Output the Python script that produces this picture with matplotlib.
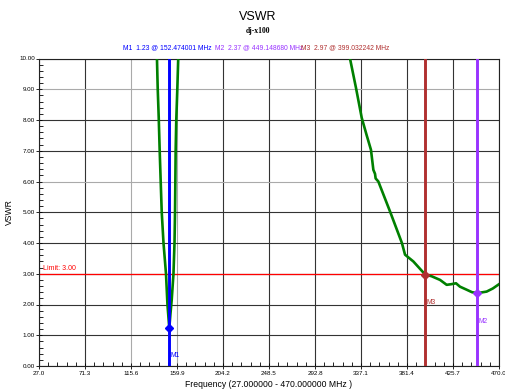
#!/usr/bin/env python
# -*- coding: utf-8 -*-

"""

  VSWR sweep plot for the dj-x100 antenna.

"""

#...for the plotting.
import matplotlib
matplotlib.use("Agg")
import matplotlib.pyplot as plt

#...for the MATH.
import numpy as np

from matplotlib.ticker import AutoMinorLocator

plt.rcParams['font.family'] = ['Liberation Sans', 'DejaVu Sans']

## The sweep frequencies [MHz] (values above 10 are off the scale).
freq = [139.8, 140.6, 141.3, 142.3, 143.2, 144.2, 145.2, 146.9, 149.3, 150.7,
        152.47, 153.6, 154.8, 156.5, 157.5, 158.0, 158.3, 158.6, 159.2, 160.2,
        161.1, 161.6, 325.8, 326.5, 332.3, 337.8, 342.6, 346.7, 349.0, 350.6,
        351.2, 353.8, 365.0, 376.5, 379.5, 387.5, 399.03, 405.0, 413.2, 419.6,
        424.0, 428.6, 432.4, 438.9, 444.0, 449.15, 458.1, 464.0, 470.0]

## The measured VSWR.
vswr = [10.6, 10.0, 9.05, 8.08, 7.03, 6.0, 5.0, 4.0, 3.0, 2.0,
        1.23, 1.7, 2.15, 3.0, 4.0, 5.0, 6.0, 7.0, 8.0, 9.0,
        10.0, 10.6, 10.6, 10.0, 9.04, 8.07, 7.5, 7.03, 6.38, 6.25,
        6.1, 6.0, 5.03, 4.0, 3.62, 3.40, 2.97, 2.92, 2.80, 2.64,
        2.66, 2.69, 2.58, 2.48, 2.40, 2.37, 2.42, 2.52, 2.66]

## The markers: names, frequencies, values and colours.
mk_names = ["M1", "M2", "M3"]
mk_freqs = [152.474001, 449.148680, 399.032242]
mk_vals = [1.23, 2.37, 2.97]
mk_cols = ["#0000ff", "#9933ff", "#b03030"]
mk_label_y = [0.35, 1.45, 2.05]

## The limit line.
limit = 3.0

## The axis ticks.
x_ticks = [27.0, 71.3, 115.6, 159.9, 204.2, 248.5, 292.8, 337.1, 381.4, 425.7, 470.0]
y_ticks = [0.0, 1.0, 2.0, 3.0, 4.0, 5.0, 6.0, 7.0, 8.0, 9.0, 10.0]

## Grid line colours (the original renders them in two shades).
x_grid_cols = ["#333333", "#333333", "#aaaaaa", "#aaaaaa", "#333333", "#333333",
               "#333333", "#333333", "#333333", "#333333", "#333333"]
y_grid_cols = ["#333333", "#333333", "#333333", "#333333", "#333333", "#333333",
               "#aaaaaa", "#333333", "#333333", "#aaaaaa", "#333333"]

## The figure.
plot = plt.figure(figsize=(5.06, 3.92), dpi=100, facecolor='w', edgecolor='w')

## The plot axes.
plotax = plot.add_axes([39/506., 1-366/392., 460/506., (366-58.5)/392.])

# Grid lines.
for xt, c in zip(x_ticks, x_grid_cols):
    plotax.axvline(xt, color=c, linewidth=0.8, zorder=1)
for yt, c in zip(y_ticks, y_grid_cols):
    plotax.axhline(yt, color=c, linewidth=0.8, zorder=1)

# The limit line.
plotax.axhline(limit, color='#ff0000', linewidth=0.9, zorder=2)
plotax.text(31.0, limit + 0.07, "Limit: %.2f" % limit, color='#ff0000',
            fontsize=5.0, va='bottom', ha='left', zorder=3)

# The VSWR curve.
plotax.plot(freq, vswr, color='#008000', linewidth=1.9, zorder=4,
            solid_joinstyle='round')

# The markers.
for n, f, v, c, ly in zip(mk_names, mk_freqs, mk_vals, mk_cols, mk_label_y):
    plotax.axvline(f, color=c, linewidth=2.1, zorder=5)
    plotax.plot([f], [v], marker='D', markersize=4.5, color=c, zorder=6)
    plotax.text(f + 1.5, ly, n, color=c, fontsize=4.8, ha='left', va='center',
                zorder=6)

# Axis limits.
plotax.set_xlim([27.0, 470.0])
plotax.set_ylim([0.0, 10.0])

# Ticks.
plotax.set_xticks(x_ticks)
plotax.set_xticklabels(["%.1f" % t for t in x_ticks])
plotax.set_yticks(y_ticks)
plotax.set_yticklabels(["%.2f" % t for t in y_ticks])
plotax.xaxis.set_minor_locator(AutoMinorLocator(5))
plotax.yaxis.set_minor_locator(AutoMinorLocator(5))
plotax.tick_params(which='major', direction='inout', length=4, width=0.6,
                   labelsize=4.5, pad=1)
plotax.tick_params(which='minor', direction='in', length=3, width=0.6)
plotax.tick_params(axis='x', which='major', length=5, pad=1)

for s in plotax.spines.values():
    s.set_linewidth(0.8)
    s.set_color('#222222')

# Axis labels.
plotax.set_xlabel("Frequency (27.000000 - 470.000000 MHz )", fontsize=6.2, labelpad=3)
plotax.set_ylabel("VSWR", fontsize=6.2, labelpad=4)

# Titles.
plot.text(258/506., 1-17/392., "VSWR", fontsize=9, ha='center', va='center')
plot.text(258/506., 1-31/392., "dj-x100", fontsize=5.5, ha='center', va='center',
          family='Liberation Serif', weight='bold')

# Marker read-outs.
mk_text_x = [123, 215, 301]
for n, f, v, c, tx in zip(mk_names, mk_freqs, mk_vals, mk_cols, mk_text_x):
    plot.text(tx/506., 1-48/392., "%s  %.2f @ %.6f MHz" % (n, v, f), color=c,
              fontsize=4.9, ha='left', va='center')

# Save the figure.
plot.savefig("out.png", dpi=100)
